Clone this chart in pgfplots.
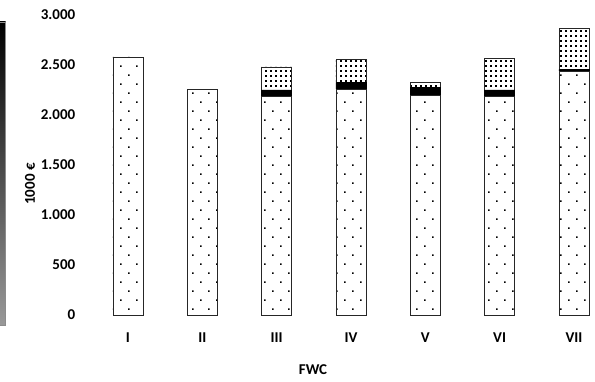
\documentclass[border=0pt]{standalone}
\usepackage{fontspec}
\setmainfont{Carlito}
\usepackage{pgfplots}
\usepackage{pgfplotstable}
\pgfplotsset{compat=1.18}
\usetikzlibrary{patterns}

% sparse staggered dots for the base segment
\pgfdeclarepatternformonly{sparsedots}{\pgfqpoint{-1pt}{-1pt}}{\pgfqpoint{17pt}{19pt}}{\pgfqpoint{16pt}{18pt}}{%
  \pgfpathrectangle{\pgfqpoint{0pt}{0pt}}{\pgfqpoint{1.6pt}{1.6pt}}%
  \pgfpathrectangle{\pgfqpoint{8pt}{9pt}}{\pgfqpoint{1.6pt}{1.6pt}}%
  \pgfusepath{fill}}
% dense dot grid for the top segment
\pgfdeclarepatternformonly{densedots}{\pgfqpoint{-1pt}{-1pt}}{\pgfqpoint{6pt}{6pt}}{\pgfqpoint{5pt}{5pt}}{%
  \pgfpathrectangle{\pgfqpoint{0pt}{0pt}}{\pgfqpoint{2pt}{2pt}}%
  \pgfusepath{fill}}

\pgfplotstableread{
x base band top
0 2580 0 0
1 2260 0 0
2 2190 60 230
3 2260 65 235
4 2200 75 50
5 2190 60 320
6 2440 15 410
}\costdata

\newcommand{\lbl}{\bfseries\fontsize{15}{18}\selectfont}

\begin{document}
\begin{tikzpicture}[x=1pt,y=1pt]
\path[use as bounding box] (0,0) rectangle (595,382);
% grey scale strip at the left edge
\shade[top color=black, bottom color=black!40, draw=black!45, line width=0.8pt]
  (-1,57) rectangle (5.5,360);
\begin{axis}[
  at={(90.83pt,67pt)}, anchor=south west,
  scale only axis, width=501.75pt, height=300pt,
  xmin=-0.5, xmax=6.25, ymin=0, ymax=3000,
  enlargelimits=false,
  ybar stacked, bar width=30pt,
  axis line style={draw=none}, tick style={draw=none},
  xtick={0,...,6}, xticklabels={I,II,III,IV,V,VI,VII},
  ytick={0,500,...,3000},
  scaled y ticks=false,
  /pgf/number format/assume math mode=true,
  /pgf/number format/1000 sep={.},
  ticklabel style={font=\lbl},
  yticklabel style={anchor=east, xshift=-12pt},
  xticklabel style={anchor=north, yshift=-14pt},
  clip=false,
]
\addplot[draw=black!85, line width=0.8pt, pattern=sparsedots]
  table[x=x, y=base] {\costdata};
\addplot[draw=black, line width=0.8pt, fill=black]
  table[x=x, y=band] {\costdata};
\addplot[draw=black!85, line width=0.8pt, pattern=densedots]
  table[x=x, y=top] {\costdata};
\end{axis}
\node[rotate=90, font=\lbl] at (30,198) {1000 €};
\node[font=\lbl] at (313,12) {FWC};
\end{tikzpicture}
\end{document}
